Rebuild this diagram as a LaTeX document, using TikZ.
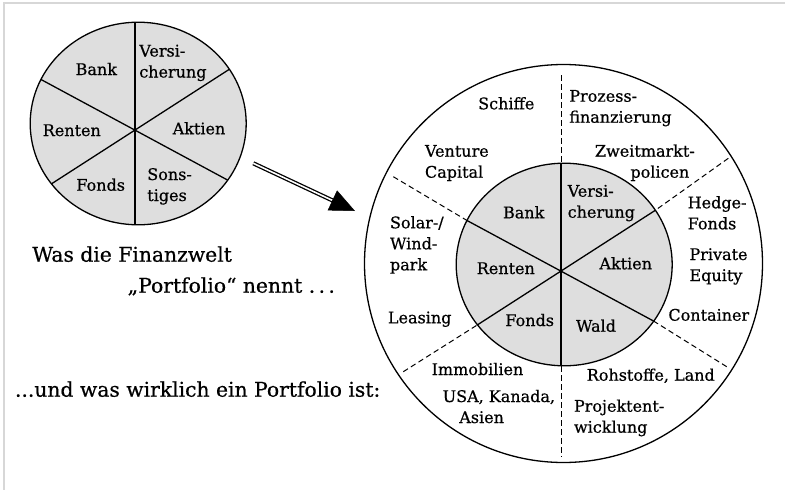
\documentclass[tikz,border=0pt]{standalone}
\usepackage{fontspec}
\setmainfont{DejaVu Serif}[FakeBold=0.6]
\usetikzlibrary{arrows.meta,calc}
\definecolor{piefill}{RGB}{222,222,222}
\definecolor{framegray}{RGB}{215,215,215}
\newcommand\lblfont{\fontsize{16pt}{21pt}\selectfont}
\newcommand\capfont{\fontsize{20.3pt}{24pt}\selectfont}
\newcommand\stk[2]{\begin{tabular}[t]{@{}#1@{}}#2\end{tabular}}
\begin{document}
\begin{tikzpicture}[x=1pt,y=-1pt,
  lbl/.style={font=\lblfont, inner sep=0pt, outer sep=0pt},
  captxt/.style={font=\capfont, inner sep=0pt, outer sep=0pt},
  pieline/.style={line width=1.3pt},
  dashline/.style={line width=1pt, dash pattern=on 5.5pt off 3.5pt},
  pie/.pic={
    \filldraw[pieline, fill=piefill] (3.2,-6.5) ellipse [x radius=108pt, y radius=101.3pt];
    \coordinate (-T) at (0,-108);
    \coordinate (-B) at (0,95);
    \coordinate (-UL) at (-94,-50.5);
    \coordinate (-UR) at (94,-60.5);
    \coordinate (-LL) at (-83,53.5);
    \coordinate (-LR) at (92.5,50);
    \draw[pieline] (-T) -- (-B);
    \draw[pieline] (-UL) -- (-LR);
    \draw[pieline] (-UR) -- (-LL);
  }]
\useasboundingbox (0,0) rectangle (785,490);
\fill[white] (0,0) rectangle (785,490);
% frame
\draw[framegray, line width=2pt] (4,490) -- (4,3) -- (785,3);

% small pie
\pic (sp) at (135,130) {pie};
\node[lbl, anchor=base] (s1) at (96.3,75) {Bank};
\node[lbl, anchor=base west] (s2) at (139.3,56.5) {\stk{l}{Versi-\\cherung}};
\node[lbl, anchor=base] (s3) at (71.8,136) {Renten};
\node[lbl, anchor=base] (s4) at (199,134.3) {Aktien};
\node[lbl, anchor=base] (s5) at (100.7,190.7) {Fonds};
\node[lbl, anchor=base west] (s6) at (147.3,180) {\stk{l}{Sons-\\tiges}};

% captions
\node[captxt, anchor=base west] (c1) at (32.3,261.7) {Was die Finanzwelt};
\node[captxt, anchor=base west] (c2) at (127.7,292.7) {„Portfolio“ nennt .\,.\,.};
\node[captxt, anchor=base west] (c3) at (15,396.7) {...und was wirklich ein Portfolio ist:};

% arrow
\coordinate (arrS) at (253.3,163.3);
\coordinate (arrT) at (355,211);
\coordinate (arrB) at ($(arrT)!23pt!(arrS)$);
\draw[double, double distance=1.6pt, line width=1.3pt] (arrS) -- ($(arrT)!20pt!(arrS)$);
\draw[line width=0.5pt, -{Triangle[length=25pt,width=22pt]}] (arrB) -- (arrT);

% big circle
\draw[pieline] (563.5,263.5) circle [radius=199pt];
\pic (bp) at (561,271) {pie};
\coordinate (oT) at (561,75);
\coordinate (oB) at (561,456.7);
\coordinate (oUL) at (393.3,176.7);
\coordinate (oUR) at (728.3,158.3);
\coordinate (oLL) at (403.3,371.7);
\coordinate (oLR) at (726.7,366.7);
\draw[dashline] (oT) -- (bp-T);
\draw[dashline] (bp-B) -- (oB);
\draw[dashline] (oUL) -- (bp-UL);
\draw[dashline] (oUR) -- (bp-UR);
\draw[dashline] (oLL) -- (bp-LL);
\draw[dashline] (oLR) -- (bp-LR);

% inner labels
\node[lbl, anchor=base] (b1) at (523.7,218.3) {Bank};
\node[lbl, anchor=base west] (b2) at (567.7,196.7) {\stk{l}{Versi-\\cherung}};
\node[lbl, anchor=base] (b3) at (505.8,274) {Renten};
\node[lbl, anchor=base] (b4) at (625.7,269.3) {Aktien};
\node[lbl, anchor=base] (b5) at (529.7,326) {Fonds};
\node[lbl, anchor=base] (b6) at (596,331.7) {Wald};

% outer labels
\node[lbl, anchor=base] (o1) at (506.3,109.3) {Schiffe};
\node[lbl, anchor=base west] (o2) at (569.3,101.7) {\stk{l}{Prozess-\\finanzierung}};
\node[lbl, anchor=base west] (o3) at (425,156.7) {\stk{l}{Venture\\Capital}};
\node[lbl, anchor=base east] (o4) at (689.3,156.7) {\stk{r}{Zweitmarkt\rlap{-}\\policen}};
\node[lbl, anchor=base west] (o5) at (687.7,208.3) {\stk{l}{Hedge-\\Fonds}};
\node[lbl, anchor=base west] (o6) at (689.5,260) {\stk{l}{Private\\Equity}};
\node[lbl, anchor=base west] (o7) at (390,228.3) {\stk{l}{Solar-/\\Wind-\\park}};
\node[lbl, anchor=base] (o8) at (419.7,323.3) {Leasing};
\node[lbl, anchor=base] (o9) at (708.8,320.7) {Container};
\node[lbl, anchor=base] (o10) at (477.5,375) {Immobilien};
\node[lbl, anchor=base] (o11) at (650.8,380.7) {Rohstoffe, Land};
\node[lbl, anchor=base west] (o12) at (442.7,402) {\stk{l}{USA, Kanada,\\\hspace{16.6pt}Asien}};
\node[lbl, anchor=base west] (o13) at (574,411.7) {\stk{l}{Projektent-\\wicklung}};
\end{tikzpicture}
\end{document}
